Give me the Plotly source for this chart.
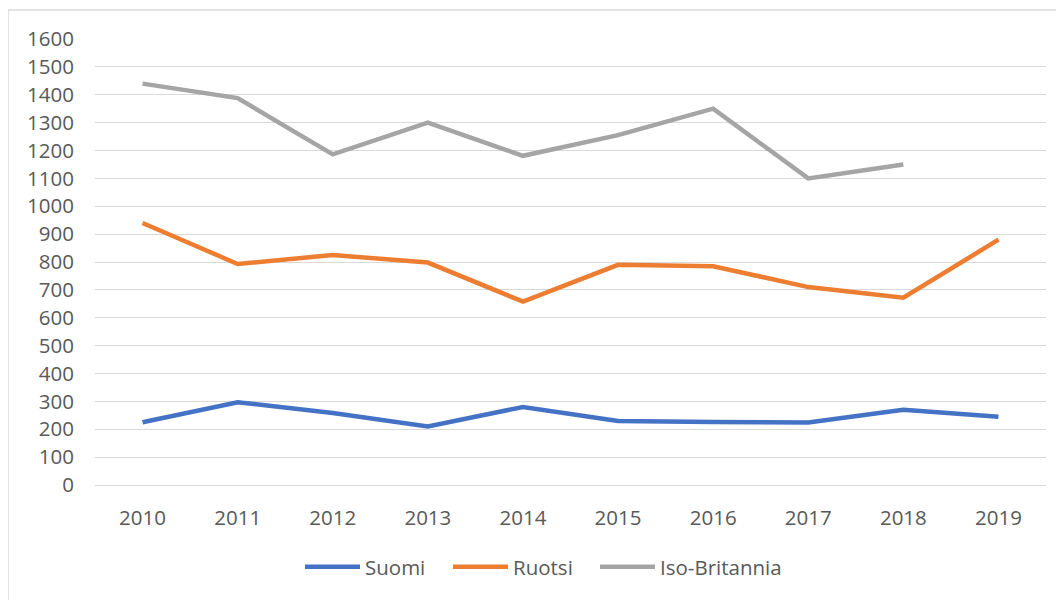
import plotly.graph_objects as go

years = ["2010", "2011", "2012", "2013", "2014", "2015", "2016", "2017", "2018", "2019"]
suomi = [225, 297, 258, 210, 280, 230, 226, 224, 270, 245]
ruotsi = [940, 793, 825, 798, 658, 790, 785, 710, 672, 880]
iso_britannia = [1440, 1388, 1186, 1300, 1181, 1255, 1350, 1100, 1150, None]

series = [
    ("Suomi", suomi, "#4472C4"),
    ("Ruotsi", ruotsi, "#ED7D31"),
    ("Iso-Britannia", iso_britannia, "#A5A5A5"),
]

# page body has an 8px margin, so the figure is laid out 8px smaller
W, H = 1056, 592
ML, MR, MT, MB = 87, 18, 31, 115
FONT = "Open Sans"
TEXT = "#595959"
FS = 20.5

pw = W - ML - MR
ph = H - MT - MB


def px_x(x):
    return (x - ML) / pw


def px_y(y):
    return (H - MB - y) / ph


# one legend per series so the entries sit at evenly spaced slots
legend_ids = ["legend", "legend2", "legend3"]
legend_left = [292, 440, 587]

fig = go.Figure()
for (name, vals, color), lid in zip(series, legend_ids):
    fig.add_trace(
        go.Scatter(
            x=years,
            y=vals,
            mode="lines",
            name=name,
            line={"color": color, "width": 4.5},
            connectgaps=False,
            legend=lid,
        )
    )

# chart area border (cropped at right and bottom like the source)
fig.add_shape(
    type="rect",
    xref="paper", yref="paper",
    x0=px_x(0), x1=px_x(W + 10),
    y0=px_y(H + 10), y1=px_y(2),
    line={"color": "#d9d9d9", "width": 1.5},
    fillcolor="rgba(0,0,0,0)",
    layer="below",
)

legend_style = {
    "orientation": "h",
    "xanchor": "left",
    "y": px_y(559),
    "yanchor": "middle",
    "font": {"family": FONT, "size": FS, "color": TEXT},
    "itemwidth": 55,
    "bgcolor": "rgba(0,0,0,0)",
}

fig.update_layout(
    width=W,
    height=H,
    margin={"l": ML, "r": MR, "t": MT, "b": MB, "autoexpand": False},
    paper_bgcolor="white",
    plot_bgcolor="white",
    font={"family": FONT, "size": FS, "color": TEXT},
    showlegend=True,
    **{lid: dict(legend_style, x=px_x(x)) for lid, x in zip(legend_ids, legend_left)},
)
fig.update_xaxes(
    type="category",
    range=[-0.5, 9.5],
    showgrid=False,
    showline=False,
    zeroline=False,
    ticks="",
    ticklabelstandoff=18,
    tickfont={"family": FONT, "size": FS, "color": TEXT},
)
fig.update_yaxes(
    range=[0, 1600],
    dtick=100,
    showgrid=True,
    gridcolor="#d9d9d9",
    gridwidth=1.3,
    zeroline=True,
    zerolinecolor="#d9d9d9",
    zerolinewidth=1.3,
    showline=False,
    ticks="",
    ticklabelstandoff=20,
    tickfont={"family": FONT, "size": FS, "color": TEXT},
)

fig.write_html("out.html")
